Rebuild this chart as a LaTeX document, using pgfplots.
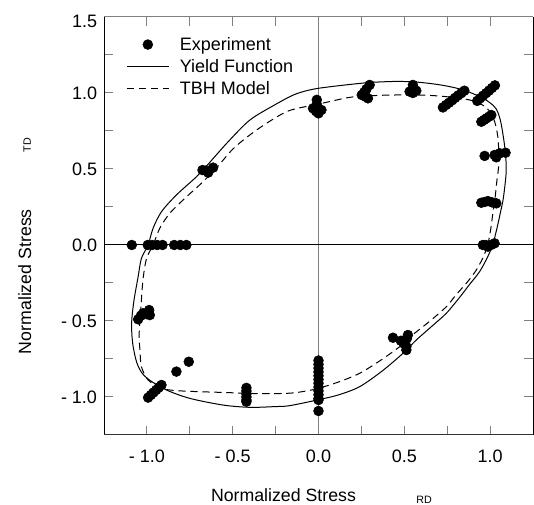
\documentclass[border=0pt]{standalone}
\usepackage{pgfplots}
\pgfplotsset{compat=1.18}
\usepackage{fontspec}
\setmainfont{Liberation Sans}
\usetikzlibrary{calc}
\pgfplotsset{dotlegend/.style={legend image code/.code={\draw[##1] plot coordinates {(16pt,0pt)};}}}
\begin{document}
\begin{tikzpicture}
\begin{axis}[
  scale only axis, width=321.75pt, height=313.5pt,
  xmin=-1.25, xmax=1.25, ymin=-1.25, ymax=1.5,
  axis line style={draw=none},
  xtick={-1,-0.5,0,0.5,1}, xticklabels={- 1.0,- 0.5,0.0,0.5,1.0},
  ytick={-1,-0.5,0,0.5,1}, yticklabels={- 1.0,- 0.5,0.0,0.5,1.0},
  extra y ticks={1.5}, extra y tick labels={1.5},
  extra y tick style={yticklabel style={yshift=-3.5pt}},
  minor xtick={-0.75,-0.25,0.25,0.75},
  minor ytick={-0.75,-0.25,0.25,0.75,1.25},
  tick align=inside, major tick length=6.4pt, minor tick length=6.4pt,
  every tick/.style={gray, line width=0.75pt},
  tick label style={font=\fontsize{13.5}{16}\selectfont},
  xticklabel style={yshift=-7.4pt},
  yticklabel style={xshift=-1.7pt},
  legend style={draw=none, fill=none, at={(0.0513,0.957)}, anchor=north west,
    inner sep=0pt, outer sep=0pt, row sep=2.1pt, column sep=7.1pt,
    font=\fontsize{13.5}{16}\selectfont,
    nodes={inner sep=0.5pt, text height=11.4pt, text depth=2pt}},
  legend cell align=left,
  legend image code/.code={\draw[#1] (0pt,0pt) -- (32pt,0pt);},
]
\coordinate (bl) at (rel axis cs:0,0);
\coordinate (tr) at (rel axis cs:1,1);
\addplot[forget plot, gray, line width=0.75pt] coordinates {(0,-1.25) (0,1.5)};
\addplot[forget plot, black, line width=0.75pt] coordinates {(-1.25,0) (1.25,0)};

\addplot[only marks, mark=*, mark size=3.7pt, black, dotlegend] coordinates {
(-1.088,0) (-0.995,0) (-0.97,0) (-0.94,0) (-0.909,0) (-0.841,0) (-0.805,0) (-0.77,0)
(-0.676,0.493) (-0.655,0.49) (-0.643,0.476) (-0.614,0.509)
(-0.01,0.955) (-0.01,0.925) (-0.032,0.899) (0.017,0.888) (0.0,0.866) (-0.015,0.88)
(0.298,1.053) (0.279,1.025) (0.266,1.005) (0.252,0.987) (0.275,0.975) (0.288,0.965)
(0.55,1.053) (0.531,1.009) (0.57,1.015) (0.55,1.0)
(0.725,0.905) (0.743,0.921) (0.761,0.936) (0.779,0.952) (0.796,0.968) (0.814,0.984) (0.832,0.999) (0.850,1.015)
(0.925,0.948) (0.942,0.965) (0.959,0.982) (0.977,0.999) (0.994,1.016) (1.011,1.033) (1.028,1.050)
(0.949,0.811) (0.964,0.822) (0.978,0.833) (0.993,0.844) (1.007,0.855)
(0.968,0.586) (1.026,0.592) (1.036,0.577) (1.056,0.603) (1.09,0.607)
(0.949,0.278) (0.968,0.283) (0.987,0.289) (1.012,0.28) (1.036,0.274)
(0.958,0.0) (0.975,0.0) (0.987,-0.011) (1.005,0.0) (1.026,0.011)
(0.434,-0.61) (0.48,-0.63) (0.492,-0.636) (0.521,-0.592) (0.515,-0.615) (0.512,-0.669) (0.512,-0.691) (0.50,-0.65)
(0,-0.76) (0,-0.785) (0,-0.81) (0,-0.835) (0,-0.86) (0,-0.885) (0,-0.91) (0,-0.935) (0,-0.96) (0,-0.985) (0,-1.01) (0,-1.02) (0,-1.092)
(-0.42,-0.94) (-0.42,-0.96) (-0.42,-0.98) (-0.42,-1.0) (-0.42,-1.02) (-0.42,-1.031)
(-0.828,-0.833) (-0.756,-0.768)
(-0.993,-1.004) (-0.977,-0.987) (-0.962,-0.971) (-0.946,-0.954) (-0.931,-0.938) (-0.915,-0.921)
(-1.051,-0.489) (-1.035,-0.465) (-1.022,-0.449) (-0.987,-0.428) (-0.983,-0.461) (-1.0,-0.455)
};
\addlegendentry{Experiment}

\addplot[black, line width=0.75pt, smooth, tension=0.5] coordinates {
(1.016,0.0) (1.040,0.110) (1.059,0.208) (1.076,0.300) (1.090,0.428) (1.094,0.500)
(1.090,0.600) (1.077,0.713) (1.060,0.820) (1.036,0.895) (1.000,0.935) (0.958,0.965)
(0.880,1.005) (0.800,1.033) (0.700,1.055) (0.570,1.072) (0.450,1.076) (0.300,1.069)
(0.150,1.052) (0.000,1.031) (-0.080,1.012) (-0.150,0.985) (-0.250,0.925) (-0.400,0.822)
(-0.530,0.675) (-0.660,0.510) (-0.711,0.449) (-0.828,0.329) (-0.915,0.219) (-0.964,0.110)
(-0.993,0.000) (-1.032,-0.088) (-1.051,-0.208) (-1.075,-0.362) (-1.088,-0.490)
(-1.088,-0.580) (-1.080,-0.669) (-1.060,-0.770) (-1.030,-0.840) (-0.983,-0.890) (-0.886,-0.954)
(-0.750,-1.009) (-0.556,-1.053) (-0.400,-1.068) (-0.250,-1.063) (-0.168,-1.057) (0.000,-1.018)
(0.120,-0.985) (0.240,-0.932) (0.370,-0.830) (0.492,-0.713) (0.570,-0.625) (0.660,-0.535)
(0.745,-0.449) (0.822,-0.345) (0.880,-0.260) (0.939,-0.175) (0.985,-0.080) (1.016,0.000)
};
\addlegendentry{Yield Function}

\addplot[black, line width=0.75pt, smooth, tension=0.5, dash pattern=on 5.5pt off 3.5pt] coordinates {
(0.987,0.000) (1.003,0.100) (1.016,0.208) (1.030,0.320) (1.040,0.428) (1.050,0.520)
(1.050,0.620) (1.045,0.713) (1.027,0.810) (0.997,0.880) (0.950,0.925) (0.881,0.954)
(0.750,0.975) (0.609,0.986) (0.400,0.986) (0.220,0.976) (0.143,0.963) (0.000,0.927)
(-0.168,0.885) (-0.290,0.810) (-0.400,0.724) (-0.500,0.630) (-0.600,0.500) (-0.693,0.395)
(-0.779,0.307) (-0.867,0.208) (-0.925,0.110) (-0.964,0.000) (-1.002,-0.088)
(-1.022,-0.220) (-1.032,-0.362) (-1.045,-0.581) (-1.040,-0.700) (-1.032,-0.800) (-0.993,-0.888)
(-0.915,-0.943) (-0.828,-0.958) (-0.700,-0.965) (-0.556,-0.970) (-0.342,-0.978) (-0.168,-0.975)
(-0.080,-0.962) (0.000,-0.943) (0.120,-0.900) (0.240,-0.844) (0.360,-0.760) (0.473,-0.669)
(0.550,-0.590) (0.650,-0.500) (0.745,-0.406) (0.800,-0.330) (0.870,-0.240) (0.920,-0.164)
(0.960,-0.080) (0.987,0.000)
};
\addlegendentry{TBH Model}
\end{axis}
\draw[black, line width=0.75pt] (bl) -- (bl|-tr);
\draw[black, line width=0.75pt] (tr) -- (tr|-bl);
\draw[gray, line width=0.75pt] (bl|-tr) -- (tr);
\draw[black!80, line width=0.75pt] (bl) -- (tr|-bl);
\node[font=\fontsize{13.3}{16}\selectfont] at ($(bl)+(134.6pt,-45pt)$) {Normalized Stress};
\node[font=\fontsize{8}{10}\selectfont] at ($(bl)+(240pt,-48.75pt)$) {RD};
\node[font=\fontsize{13.3}{16}\selectfont, rotate=90] at ($(bl)+(-59.5pt,115pt)$) {Normalized Stress};
\node[font=\fontsize{8}{10}\selectfont, rotate=90] at ($(bl)+(-57.6pt,217.5pt)$) {TD};
\pgfresetboundingbox
\path[use as bounding box] ($(bl)+(-78pt,-52.5pt)$) rectangle ($(tr)+(0.75pt,12.75pt)$);
\end{tikzpicture}
\end{document}
